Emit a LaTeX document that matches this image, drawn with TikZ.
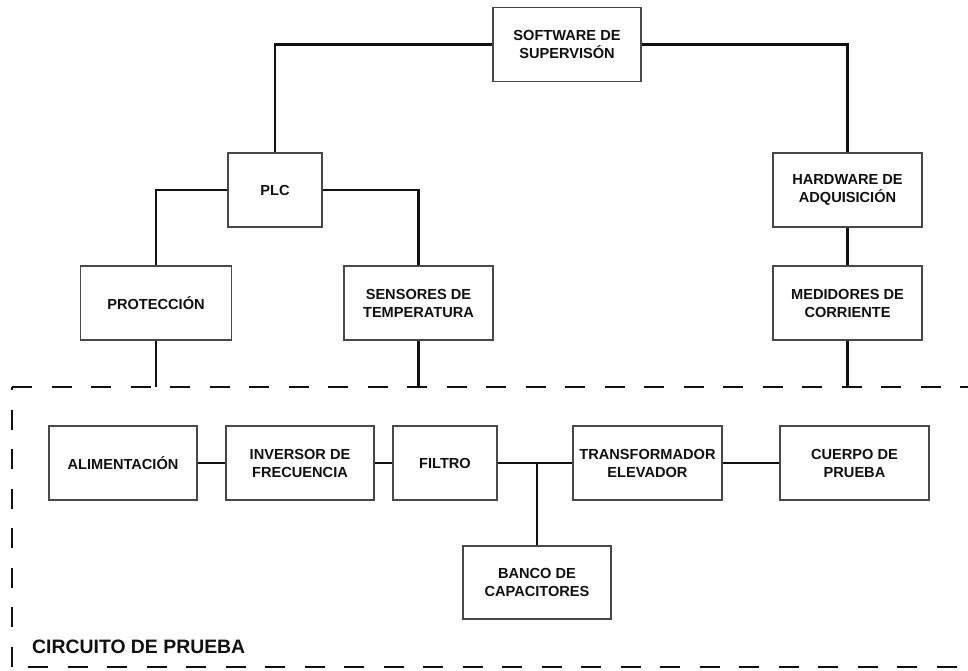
\documentclass[tikz,border=0pt]{standalone}
\usepackage{fontspec}
\setmainfont{Liberation Sans}
\definecolor{txt}{HTML}{111111}
\definecolor{boxc}{HTML}{484848}
\begin{document}
\begin{tikzpicture}[x=1pt,y=-1pt,
  blk/.style={draw=boxc,line width=1.4pt,fill=white,minimum height=74pt,align=center,
    inner sep=2pt,text=txt,font=\fontsize{14.6}{18}\selectfont\bfseries},
  conn/.style={line width=2.4pt,draw=txt},
  regionline/.style={line width=2.4pt,draw=txt,dash pattern=on 20pt off 19.5pt}]
\useasboundingbox[fill=white] (0,0) rectangle (968,670);
% boxes
\node[blk,minimum width=148pt] (sw) at (567,44.5) {SOFTWARE DE\\SUPERVISÓN};
\node[blk,minimum width=94pt] (plc) at (275,190) {PLC};
\node[blk,minimum width=149pt] (hw) at (847.5,190) {HARDWARE DE\\ADQUISICIÓN};
\node[blk,minimum width=151pt] (prot) at (156,303) {PROTECCIÓN};
\node[blk,minimum width=149pt] (sens) at (418.5,303) {SENSORES DE\\TEMPERATURA};
\node[blk,minimum width=149pt] (med) at (847.5,303) {MEDIDORES DE\\CORRIENTE};
\node[blk,minimum width=148pt] (alim) at (123,463) {ALIMENTACIÓN};
\node[blk,minimum width=148pt] (inv) at (300,463) {INVERSOR DE\\FRECUENCIA};
\node[blk,minimum width=104pt] (fil) at (445,463) {FILTRO};
\node[blk,minimum width=149pt] (tr) at (647.5,463) {TRANSFORMADOR\\ELEVADOR};
\node[blk,minimum width=149pt] (cu) at (854.5,463) {CUERPO DE\\PRUEBA};
\node[blk,minimum width=148pt,minimum height=73pt] (ban) at (537,582.5) {BANCO DE\\CAPACITORES};
% dashed region
\coordinate (dtl) at (12,387);
\coordinate (dtr) at (968,387);
\coordinate (dbl) at (12,667);
\coordinate (dbr) at (968,667);
\draw[regionline] (dtl) -- (dtr);
\draw[regionline,dash phase=17pt] (dtl) -- (dbl);
\draw[regionline,dash phase=-16pt] (dbl) -- (dbr);
\node[anchor=base west,inner sep=0pt,text=txt,font=\fontsize{19.4}{22}\selectfont\bfseries] (lab) at (32,653) {CIRCUITO DE PRUEBA};
% connectors
\draw[conn] (sw.west) -| (plc.north);
\draw[conn] (sw.east) -| (hw.north);
\draw[conn] (plc.west) -| (prot.north);
\draw[conn] (plc.east) -| (sens.north);
\draw[conn] (hw.south) -- (med.north);
\draw[conn] (prot.south) -- (prot.south |- dtl);
\draw[conn] (sens.south) -- (sens.south |- dtl);
\draw[conn] (med.south) -- (med.south |- dtl);
\draw[conn] (alim.east) -- (inv.west);
\draw[conn] (inv.east) -- (fil.west);
\draw[conn] (fil.east) -- (tr.west);
\draw[conn] (tr.east) -- (cu.west);
\coordinate (j) at (ban.north |- fil.east);
\draw[conn] (j) -- (ban.north);
\end{tikzpicture}
\end{document}
